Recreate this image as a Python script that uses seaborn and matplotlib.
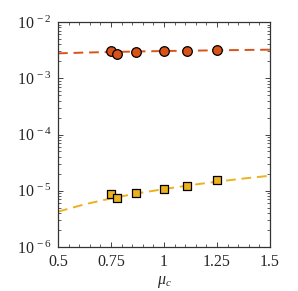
import numpy as np
import pandas as pd
import matplotlib
matplotlib.use("Agg")
import matplotlib.pyplot as plt
import matplotlib.ticker as mticker
import seaborn as sns

# measured points
mu_c = [0.75, 0.78, 0.87, 1.0, 1.11, 1.25]
upper_pts = [3.01e-3, 2.74e-3, 2.89e-3, 3.01e-3, 3.05e-3, 3.14e-3]
lower_pts = [8.75e-6, 7.35e-6, 9.1e-6, 1.09e-5, 1.23e-5, 1.53e-5]

# fitted dashed curves
fit_x = [0.5, 0.625, 0.75, 0.875, 1.0, 1.125, 1.25, 1.375, 1.5]
upper_fit = [2.77e-3, 2.86e-3, 2.93e-3, 2.99e-3, 3.05e-3, 3.09e-3, 3.14e-3, 3.18e-3, 3.22e-3]
lower_fit = [4.25e-6, 5.73e-6, 7.31e-6, 9.0e-6, 1.07e-5, 1.26e-5, 1.45e-5, 1.65e-5, 1.85e-5]

x_ticks = [0.5, 0.75, 1.0, 1.25, 1.5]
x_ticklabels = ["0.5", "0.75", "1", "1.25", "1.5"]
y_ticks = [1e-6, 1e-5, 1e-4, 1e-3, 1e-2]
y_ticklabels = ["10$^{\\,-6}$", "10$^{\\,-5}$", "10$^{\\,-4}$", "10$^{\\,-3}$", "10$^{\\,-2}$"]

orange = "#D95319"
yellow = "#EDB120"

sns.set_style("ticks")
plt.rcParams['font.family'] = ['Liberation Serif', 'DejaVu Serif']
plt.rcParams['mathtext.fontset'] = 'custom'
plt.rcParams['mathtext.rm'] = 'Liberation Serif'
plt.rcParams['mathtext.it'] = 'Liberation Serif:italic'

fig = plt.figure(figsize=(2.98, 2.91), dpi=100)
ax = fig.add_axes([0.1946, 0.1512, 0.7114, 0.7732])

fit_df = pd.DataFrame({"x": fit_x, "upper": upper_fit, "lower": lower_fit})
pts_df = pd.DataFrame({"x": mu_c, "upper": upper_pts, "lower": lower_pts})

sns.lineplot(data=fit_df, x="x", y="upper", ax=ax, color=orange, linestyle=(0, (5, 3)), linewidth=1.4)
sns.lineplot(data=fit_df, x="x", y="lower", ax=ax, color=yellow, linestyle=(0, (5, 3)), linewidth=1.4)
sns.scatterplot(data=pts_df, x="x", y="upper", ax=ax, marker="o", s=48, color=orange,
                edgecolor="black", linewidth=0.9, zorder=3)
sns.scatterplot(data=pts_df, x="x", y="lower", ax=ax, marker="s", s=28, color=yellow,
                edgecolor="black", linewidth=0.9, zorder=3)

ax.set_yscale("log")
ax.set_xlim(0.5, 1.5)
ax.set_ylim(1e-6, 1e-2)
ax.set_xticks(x_ticks)
ax.set_xticklabels(x_ticklabels)
ax.set_yticks(y_ticks)
ax.set_yticklabels(y_ticklabels)
ax.xaxis.set_minor_locator(mticker.MultipleLocator(0.05))
ax.yaxis.set_minor_locator(mticker.LogLocator(base=10, subs=np.arange(2, 10), numticks=20))
ax.yaxis.set_minor_formatter(mticker.NullFormatter())

ax.tick_params(which="both", direction="in", top=True, right=True, color="#262626",
               labelsize=11.5, labelcolor="#262626")
ax.tick_params(which="major", length=3.5, width=0.6, pad=5)
ax.tick_params(which="minor", length=2, width=0.5)
for s in ax.spines.values():
    s.set_color("#333333")
    s.set_linewidth(0.9)

ax.set_xlabel("$\\mu_c$", fontsize=11.5, color="#262626", labelpad=3)
ax.set_ylabel("")

fig.savefig("out.png", dpi=100)
